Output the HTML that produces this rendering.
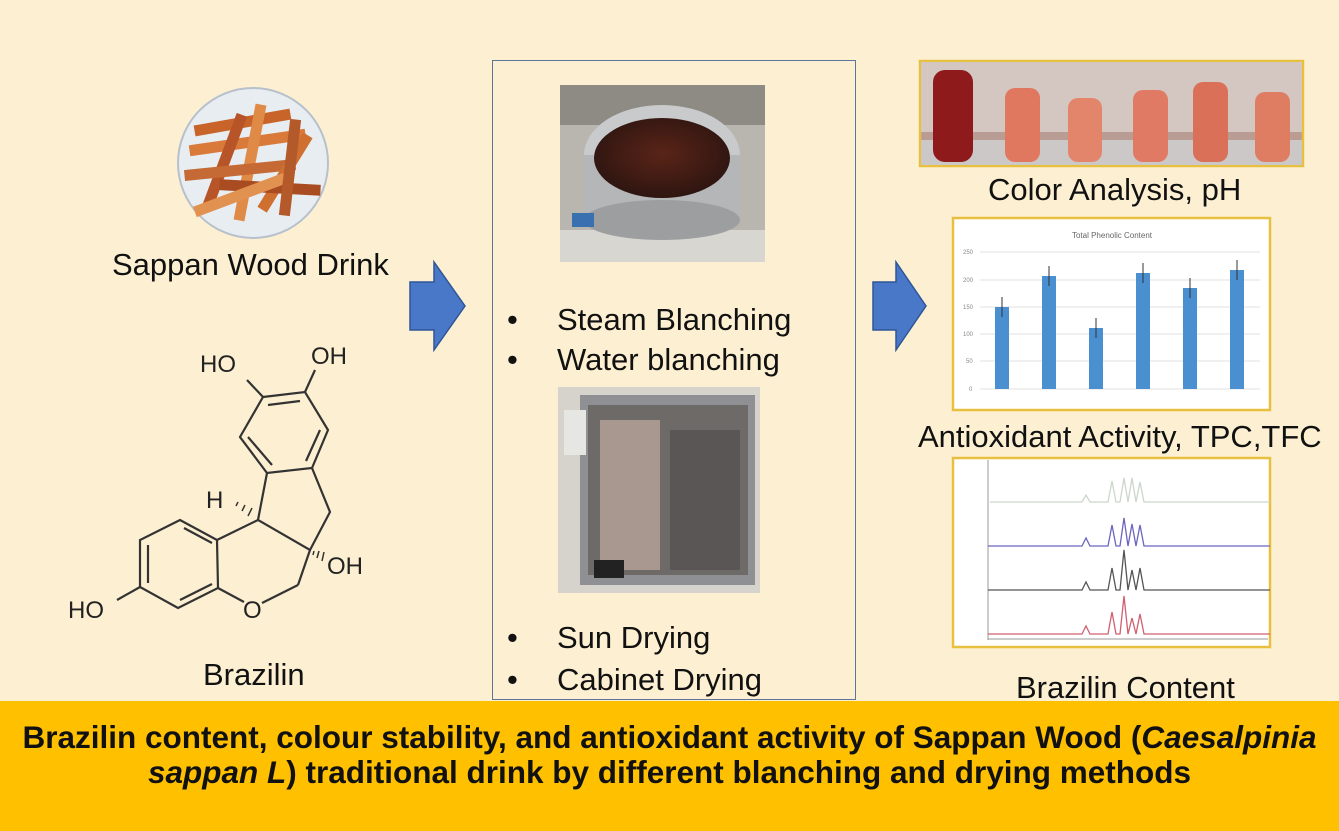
<!DOCTYPE html>
<html><head><meta charset="utf-8"><style>
html,body{margin:0;padding:0}
body{width:1339px;height:831px;position:relative;overflow:hidden;background:#fdf0d2;font-family:"Liberation Sans",sans-serif;color:#111}
.t{position:absolute;font-size:31px;line-height:36px;white-space:nowrap;font-family:"Liberation Sans",sans-serif}
.box{position:absolute;left:492px;top:60px;width:362px;height:638px;border:1.5px solid #5b7696}
.banner{position:absolute;left:0;top:701px;width:1339px;height:130px;background:#ffc000}
.bt{position:absolute;left:0;width:1339px;text-align:center;font-weight:bold;font-size:31.5px;line-height:36px;white-space:nowrap}
</style></head><body>
<svg width="1339" height="831" style="position:absolute;left:0;top:0">
<defs>
<radialGradient id="pot" cx="50%" cy="45%" r="60%"><stop offset="0" stop-color="#5a2418"/><stop offset="1" stop-color="#2a1410"/></radialGradient>
</defs>
<circle cx="253" cy="163" r="75" fill="#e8edf2" stroke="#b8c0cc" stroke-width="2"/>
<g stroke-linecap="square" stroke-width="11">
<line x1="200" y1="130" x2="285" y2="115" stroke="#c8642a"/>
<line x1="195" y1="150" x2="300" y2="135" stroke="#d97a3a"/>
<line x1="210" y1="200" x2="240" y2="120" stroke="#b85528"/>
<line x1="240" y1="215" x2="260" y2="110" stroke="#e08a48"/>
<line x1="190" y1="175" x2="290" y2="165" stroke="#c56a34"/>
<line x1="265" y1="205" x2="305" y2="140" stroke="#cf6f30"/>
<line x1="225" y1="185" x2="315" y2="190" stroke="#a94c22"/>
<line x1="200" y1="210" x2="280" y2="180" stroke="#e29250"/>
<line x1="285" y1="210" x2="295" y2="125" stroke="#b45a2a"/>
</g>
<polygon points="410,282 434,282 434,262 465,306 434,350 434,330 410,330" fill="#4a78c8" stroke="#2f5597" stroke-width="1.5"/>
<polygon points="873,282 896,282 896,262 926,306 896,350 896,330 873,330" fill="#4a78c8" stroke="#2f5597" stroke-width="1.5"/>
<g stroke="#333" stroke-width="2.2" fill="none">
<polygon points="263,397 305,392 328,430 312,468 267,473 240,437"/>
<line x1="268" y1="405" x2="300" y2="401"/><line x1="320" y1="430" x2="306" y2="461"/><line x1="272" y1="465" x2="248" y2="437"/>
<line x1="263" y1="397" x2="247" y2="380"/><line x1="305" y1="392" x2="315" y2="370"/>
<polyline points="312,468 330,512 310,550 258,520 267,473"/>
<polygon points="217,540 180,520 140,540 140,587 178,608 218,588"/>
<line x1="184" y1="528" x2="212" y2="543"/><line x1="148" y1="545" x2="148" y2="583"/><line x1="180" y1="600" x2="212" y2="584"/>
<line x1="217" y1="540" x2="258" y2="520"/>
<line x1="218" y1="588" x2="244" y2="602"/><line x1="262" y1="603" x2="298" y2="585"/><line x1="298" y1="585" x2="310" y2="550"/>
<line x1="140" y1="587" x2="117" y2="600"/>
<g stroke-width="1.5"><line x1="236" y1="506" x2="238" y2="502"/><line x1="242" y1="511" x2="245" y2="505"/><line x1="248" y1="516" x2="252" y2="508"/><line x1="314" y1="551" x2="313" y2="555"/><line x1="319" y1="551" x2="317" y2="558"/><line x1="324" y1="552" x2="322" y2="561"/></g>
</g>
<g font-family="Liberation Sans,sans-serif" font-size="24" fill="#222">
<text x="200" y="372">HO</text><text x="311" y="364">OH</text><text x="206" y="508">H</text>
<text x="327" y="574">OH</text><text x="68" y="618">HO</text><text x="243" y="618">O</text>
</g>
<rect x="560" y="85" width="205" height="177" fill="#b9b6b0"/>
<rect x="560" y="85" width="205" height="40" fill="#8e8a84"/>
<rect x="560" y="230" width="205" height="32" fill="#d8d6d0"/>
<ellipse cx="662" cy="155" rx="78" ry="50" fill="#c8cacb"/>
<rect x="584" y="155" width="156" height="65" fill="#b4b6b8"/>
<ellipse cx="662" cy="220" rx="78" ry="20" fill="#9c9ea0"/>
<ellipse cx="662" cy="158" rx="68" ry="40" fill="url(#pot)"/>
<rect x="572" y="213" width="22" height="14" fill="#3a6fb0"/>
<rect x="558" y="387" width="202" height="206" fill="#d6d3cc"/>
<rect x="580" y="395" width="175" height="190" fill="#8f9094"/>
<rect x="588" y="405" width="160" height="170" fill="#6e6a68"/>
<rect x="600" y="420" width="60" height="150" fill="#a89890"/>
<rect x="670" y="430" width="70" height="140" fill="#5a5656"/>
<rect x="564" y="410" width="22" height="45" fill="#e6e6e2"/>
<rect x="594" y="560" width="30" height="18" fill="#222"/>
<rect x="920" y="61" width="383" height="105" fill="#b99c94" stroke="#e8c040" stroke-width="2.5"/>
<rect x="921" y="62" width="381" height="70" fill="#d4c6c0"/>
<rect x="921" y="140" width="381" height="25" fill="#cdc8c8"/>
<rect x="933" y="70" width="40" height="92" rx="12" fill="#8e1a1c"/>
<rect x="1005" y="88" width="35" height="74" rx="10" fill="#e07860"/>
<rect x="1068" y="98" width="34" height="64" rx="10" fill="#e3856a"/>
<rect x="1133" y="90" width="35" height="72" rx="10" fill="#e07a64"/>
<rect x="1193" y="82" width="35" height="80" rx="10" fill="#da7058"/>
<rect x="1255" y="92" width="35" height="70" rx="10" fill="#df7d62"/>
<rect x="953" y="218" width="317" height="192" fill="#fff" stroke="#e8c040" stroke-width="2.5"/>
<text x="1112" y="238" font-size="8" fill="#666" text-anchor="middle" font-family="Liberation Sans,sans-serif">Total Phenolic Content</text>
<g stroke="#e2e2e2" stroke-width="1"><line x1="980" y1="252" x2="1260" y2="252"/><line x1="980" y1="280" x2="1260" y2="280"/><line x1="980" y1="307" x2="1260" y2="307"/><line x1="980" y1="334" x2="1260" y2="334"/><line x1="980" y1="361" x2="1260" y2="361"/><line x1="980" y1="389" x2="1260" y2="389"/></g>
<g font-size="6" fill="#888" font-family="Liberation Sans,sans-serif"><text x="963" y="254">250</text><text x="963" y="282">200</text><text x="963" y="309">150</text><text x="963" y="336">100</text><text x="966" y="363">50</text><text x="969" y="391">0</text></g>
<g fill="#4a8fd0"><rect x="995" y="307" width="14" height="82"/><rect x="1042" y="276" width="14" height="113"/><rect x="1089" y="328" width="14" height="61"/><rect x="1136" y="273" width="14" height="116"/><rect x="1183" y="288" width="14" height="101"/><rect x="1230" y="270" width="14" height="119"/></g>
<g stroke="#333" stroke-width="1"><line x1="1002" y1="297" x2="1002" y2="317"/><line x1="1049" y1="266" x2="1049" y2="286"/><line x1="1096" y1="318" x2="1096" y2="338"/><line x1="1143" y1="263" x2="1143" y2="283"/><line x1="1190" y1="278" x2="1190" y2="298"/><line x1="1237" y1="260" x2="1237" y2="280"/></g>
<rect x="953" y="458" width="317" height="189" fill="#fff" stroke="#e8c040" stroke-width="2.5"/>
<line x1="988" y1="460" x2="988" y2="640" stroke="#999"/>
<line x1="988" y1="639" x2="1268" y2="639" stroke="#999"/>
<g fill="none" stroke-width="1.3">
<polyline stroke="#ccd6cc" points="990,502 1082,502 1086,495 1090,502 1108,502 1112,481 1116,502 1120,502 1124,478 1128,502 1132,478 1136,502 1140,482 1144,502 1270,502"/>
<polyline stroke="#6a66c0" points="988,546 1082,546 1086,538 1090,546 1108,546 1112,525 1116,546 1120,546 1124,518 1128,546 1132,524 1136,546 1140,525 1144,546 1270,546"/>
<polyline stroke="#555" points="988,590 1082,590 1086,582 1090,590 1108,590 1112,568 1116,590 1120,590 1124,550 1128,590 1132,570 1136,590 1140,568 1144,590 1270,590"/>
<polyline stroke="#d06070" points="988,634 1082,634 1086,626 1090,634 1108,634 1112,612 1116,634 1120,634 1124,596 1128,634 1132,618 1136,634 1140,614 1144,634 1270,634"/>
</g>
</svg>
<div class="t" style="left:112px;top:247px">Sappan Wood Drink</div>
<div class="t" style="left:203px;top:657px">Brazilin</div>
<div class="box"></div>
<div class="t" style="left:507px;top:302px">•</div><div class="t" style="left:557px;top:302px">Steam Blanching</div>
<div class="t" style="left:507px;top:342px">•</div><div class="t" style="left:557px;top:342px">Water blanching</div>
<div class="t" style="left:507px;top:620px">•</div><div class="t" style="left:557px;top:620px">Sun Drying</div>
<div class="t" style="left:507px;top:662px">•</div><div class="t" style="left:557px;top:662px">Cabinet Drying</div>
<div class="t" style="left:988px;top:172px">Color Analysis, pH</div>
<div class="t" style="left:918px;top:419px">Antioxidant Activity, TPC,TFC</div>
<div class="t" style="left:1016px;top:670px">Brazilin Content</div>
<div class="banner"></div>
<div class="bt" style="top:719px">Brazilin content, colour stability, and antioxidant activity of Sappan Wood (<i>Caesalpinia</i></div>
<div class="bt" style="top:754px"><i>sappan L</i>) traditional drink by different blanching and drying methods</div>
</body></html>
